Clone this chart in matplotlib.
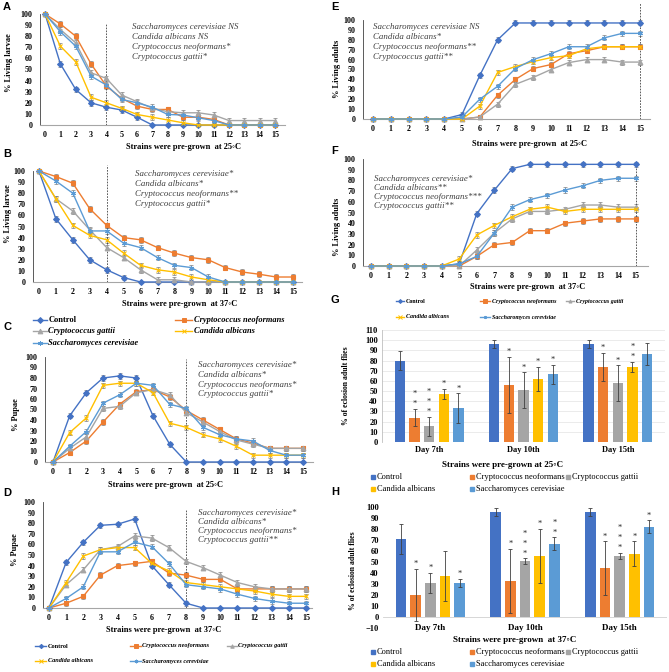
import numpy as np
import matplotlib.pyplot as plt
from matplotlib.lines import Line2D
from matplotlib.patches import Rectangle

plt.rcParams['font.family'] = ['Liberation Serif', 'DejaVu Serif']

W, H = 669, 672

steps = list(range(16))
names = ['Control', 'Cryptococcus neoformans', 'Cryptococcus gattii',
         'Candida albicans', 'Saccharomyces cerevisiae']
colors = ['#4472C4', '#ED7D31', '#A5A5A5', '#FFC000', '#5B9BD5']
markers = ['D', 's', '^', 'x', (6, 2, 0)]

# A - living larvae, strains grown at 25C
a_ctrl = [100, 55, 32, 20, 16, 13.5, 7, 0, 0, 0, 0, 0, 0, 0, 0, 0]
a_neo = [100, 91, 80, 55, 35, 24, 17, 14, 14, 7, 7, 5, 0, 0, 0, 0]
a_gat = [100, 86, 74, 47, 42, 27, 21, 15, 12, 11, 11, 9, 4, 4, 4, 4]
a_alb = [100, 71, 57, 25, 20, 15, 9.5, 7, 4.5, 2, 0, 0, 0, 0, 0, 0]
a_cer = [100, 84, 71, 44, 36, 23, 20, 16, 9.5, 9, 6.5, 4, 0, 0, 0, 0]

# B - living larvae, 37C
b_ctrl = [100, 57, 38, 20, 11, 4, 0, 0, 0, 0, 0, 0, 0, 0, 0, 0]
b_neo = [100, 95, 89, 66, 51, 40, 38, 31, 26, 22, 20, 13, 9, 7, 4.5, 4.5]
b_gat = [100, 75, 64, 47, 31, 22, 11, 2, 2, 0, 0, 0, 0, 0, 0, 0]
b_alb = [100, 75, 51, 42, 38, 26, 15, 11, 9, 4.5, 2, 0, 0, 0, 0, 0]
b_cer = [100, 91, 80, 46, 46, 35, 31, 22, 15, 13, 4.5, 0, 0, 0, 0, 0]

# C - pupae, 25C
c_ctrl = [0, 44, 66, 80, 82, 80, 44, 17, 0, 0, 0, 0, 0, 0, 0, 0]
c_neo = [0, 9, 20, 38, 55, 67, 69, 62, 49, 40, 31, 22, 18, 13, 13, 13]
c_gat = [0, 13, 24, 51, 53, 66, 69, 64, 47, 38, 29, 21, 17, 13, 13, 13]
c_alb = [0, 28, 42, 73, 75, 75, 66, 37, 33, 26, 22, 15, 6.5, 6.5, 6.5, 6.5]
c_cer = [0, 15, 29, 56, 64, 75, 73, 55, 51, 33, 26, 22, 20, 11, 6.5, 6.5]

# D - pupae, 37C
d_ctrl = [0, 43, 62, 78, 79, 84, 40, 22, 4.5, 0, 0, 0, 0, 0, 0, 0]
d_neo = [0, 4.5, 11, 31, 40, 42, 44, 33, 31, 27, 27, 18, 18, 18, 18, 18]
d_gat = [0, 22, 36, 55, 58, 68, 66, 57, 44, 38, 31, 24, 20, 18, 18, 18]
d_alb = [0, 24, 49, 55, 57, 57, 42, 35, 24, 22, 20, 18, 16, 13, 11, 11]
d_cer = [0, 9, 20, 53, 53, 62, 58, 42, 22, 20, 18, 13, 9, 6.5, 4.5, 4.5]

# E - living adults, 25C
e_ctrl = [0, 0, 0, 0, 0, 4.5, 44, 80, 97, 97, 97, 97, 97, 97, 97, 97]
e_neo = [0, 0, 0, 0, 0, 0, 2, 24, 40, 51, 55, 66, 69, 73, 73, 73]
e_gat = [0, 0, 0, 0, 0, 0, 2, 15, 35, 42, 50, 57, 60, 60, 57.5, 57.5]
e_alb = [0, 0, 0, 0, 0, 0, 13, 47, 53, 58, 62, 64, 71, 73, 73, 73]
e_cer = [0, 0, 0, 0, 0, 2, 20, 33, 51, 60, 66, 73, 73, 82, 86.5, 86.5]

# F - living adults, 37C
f_ctrl = [0, 0, 0, 0, 0, 2, 49, 71, 91, 95, 95, 95, 95, 95, 95, 95]
f_neo = [0, 0, 0, 0, 0, 0, 9, 20, 22, 33, 33, 40, 42, 44, 44, 44]
f_gat = [0, 0, 0, 0, 0, 0, 15, 31, 44, 51, 51, 53, 57, 57, 55, 55]
f_alb = [0, 0, 0, 0, 0, 6.5, 29, 38, 46, 53, 55, 51, 53, 53, 53, 53]
f_cer = [0, 0, 0, 0, 0, 2, 9, 31, 55, 62, 66, 71, 75, 80, 82, 82]

a_notes = ['Saccharomyces cerevisiae NS', 'Candida albicans NS',
           'Cryptococcus neoformans*', 'Cryptococcus gattii*']
b_notes = ['Saccharomyces cerevisiae*', 'Candida albicans*',
           'Cryptococcus neoformans**', 'Cryptococcus gattii*']
c_notes = ['Saccharomyces cerevisiae*', 'Candida albicans*',
           'Cryptococcus neoformans*', 'Cryptococcus gattii*']
d_notes = ['Saccharomyces cerevisiae*', 'Candida albicans*',
           'Cryptococcus neoformans*', 'Cryptococcus gattii**']
e_notes = ['Saccharomyces cerevisiae NS', 'Candida albicans*',
           'Cryptococcus neoformans**', 'Cryptococcus gattii**']
f_notes = ['Saccharomyces cerevisiae*', 'Candida albicans**',
           'Cryptococcus neoformans***', 'Cryptococcus gattii**']

LINE_ERR = 2.5

# G / H - % eclosion of adult flies (bars), mean and error, order = names
day_labels = ['Day 7th', 'Day 10th', 'Day 15th']
g_ctrl = [80, 96.5, 96.5]
g_neo = [24, 56, 73.5]
g_gat = [15.5, 51, 58]
g_alb = [47, 62, 73.5]
g_cer = [33.5, 66.5, 86.5]
g_ctrl_err = [9.5, 4, 4]
g_neo_err = [8.5, 27.5, 14]
g_gat_err = [9.5, 17.5, 17.5]
g_alb_err = [5, 12, 5]
g_cer_err = [14.5, 9.5, 11]
g_ctrl_stars = [0, 0, 0]
g_neo_stars = [2, 1, 1]
g_gat_stars = [3, 1, 1]
g_alb_stars = [1, 1, 2]
g_cer_stars = [1, 1, 0]

h_ctrl = [71, 95.5, 95.5]
h_neo = [20, 33, 44.5]
h_gat = [31, 51, 55.5]
h_alb = [37.5, 55.5, 57.5]
h_cer = [31, 66.5, 82]
h_ctrl_err = [14, 3.5, 3.5]
h_neo_err = [24, 29, 24.5]
h_gat_err = [9, 2.5, 3]
h_alb_err = [22.5, 24.5, 11.5]
h_cer_err = [3.5, 6, 6]
h_ctrl_stars = [0, 0, 0]
h_neo_stars = [1, 1, 1]
h_gat_stars = [1, 3, 3]
h_alb_stars = [0, 1, 1]
h_cer_stars = [1, 2, 1]

fig = plt.figure(figsize=(W / 100, H / 100), dpi=100)


def px_axes(l, t, r, b):
    return fig.add_axes([l / W, 1 - b / H, (r - l) / W, (b - t) / H])


def ftext(x, y, s, **kw):
    fig.text(x / W, 1 - y / H, s, **kw)


def line_panel(box, series, xlim, vx, vtop, notes, nx, ny, nstep,
               ylabel, ylab_xy, xlabel, xlab_xy):
    ax = px_axes(*box)
    for i, vals in enumerate(series):
        err = [LINE_ERR if 0 < v < 100 else 0 for v in vals]
        ax.errorbar(steps, vals, yerr=err, fmt='none', ecolor='#7F7F7F',
                    elinewidth=0.5, capsize=1.2, capthick=0.5, clip_on=False)
        ms = 3.0 if i == 0 else 3.4
        ax.plot(steps, vals, color=colors[i], lw=1.0, marker=markers[i],
                ms=ms, mew=0.8, clip_on=False, zorder=3 + i)
    ax.vlines(vx, 0, vtop, colors='#404040', linestyles=(0, (2, 1.5)),
              lw=0.6, clip_on=False, zorder=2)
    ax.set_xlim(*xlim)
    ax.set_ylim(0, 100)
    ax.set_xticks(steps)
    ax.set_yticks(range(0, 101, 10))
    ax.tick_params(length=0, labelsize=5.8, pad=4)
    ax.tick_params(axis='y', pad=5.5)
    for lab in ax.get_xticklabels() + ax.get_yticklabels():
        lab.set_fontweight('bold')
    for s in ['top', 'right']:
        ax.spines[s].set_visible(False)
    ax.spines['left'].set_color('#404040')
    ax.spines['left'].set_linewidth(0.6)
    ax.spines['bottom'].set_color('#A6A6A6')
    ax.spines['bottom'].set_linewidth(0.8)
    for k, note in enumerate(notes):
        ax.text(nx, ny - k * nstep, note, fontsize=6.4, style='italic',
                color='#404040', va='center', ha='left')
    ftext(ylab_xy[0], ylab_xy[1], ylabel, rotation=90, fontsize=6,
          fontweight='bold', ha='center', va='center')
    ftext(xlab_xy[0], xlab_xy[1], xlabel, fontsize=6, fontweight='bold',
          ha='center', va='center')
    return ax


line_panel((40, 14, 285, 125), [a_ctrl, a_neo, a_gat, a_alb, a_cer],
           (-0.33, 15.65), 4, 92, a_notes, 5.7, 88, 9,
           '% Living larvae', (9, 63), 'Strains were pre-grown  at 25\u25e6C', (183, 147))
line_panel((33, 171, 302, 282), [b_ctrl, b_neo, b_gat, b_alb, b_cer],
           (-0.35, 15.53), 4, 105, b_notes, 5.7, 97, 9,
           '% Living larvae', (8, 214), 'Strains were pre-grown  at 37\u25e6C', (180, 304))
line_panel((45, 357, 313, 462), [c_ctrl, c_neo, c_gat, c_alb, c_cer],
           (-0.48, 15.6), 8, 98, c_notes, 8.7, 92, 9.2,
           '% Pupae', (16, 415), 'Strains were pre-grown  at 25\u25e6C', (165, 485))
line_panel((43, 502, 312, 608), [d_ctrl, d_neo, d_gat, d_alb, d_cer],
           (-0.35, 15.35), 8, 92, d_notes, 8.7, 90, 8.6,
           '% Pupae', (15, 550), 'Strains were pre-grown  at 37\u25e6C', (164, 630))
line_panel((363, 20, 650, 119), [e_ctrl, e_neo, e_gat, e_alb, e_cer],
           (-0.56, 15.56), 15, 117, e_notes, 0.0, 93, 10,
           '% Living adults', (337, 69), 'Strains were pre-grown  at 25\u25e6C', (529, 144))
line_panel((363, 159, 648, 266), [f_ctrl, f_neo, f_gat, f_alb, f_cer],
           (-0.45, 15.7), 15, 97, f_notes, 0.2, 81, 8.4,
           '% Living adults', (337, 227), 'Strains were pre-grown  at 37\u25e6C', (528, 287))


def bar_panel(box, means, errs, stars, ylim, yticks, grid, ylab_xy, xlabel, xlab_xy):
    ax = px_axes(*box)
    x = np.arange(len(day_labels))
    for i in range(5):
        xi = x + (i - 2) * 0.155
        ax.bar(xi, means[i], width=0.11, color=colors[i], zorder=3)
        ax.errorbar(xi, means[i], yerr=errs[i], fmt='none', ecolor='#404040',
                    elinewidth=0.6, capsize=1.6, capthick=0.6, zorder=4)
        for j in range(len(x)):
            top = means[i][j] + errs[i][j]
            for k in range(stars[i][j]):
                ax.annotate('*', (xi[j], top), xytext=(0, 0.5 + 7.2 * k),
                            textcoords='offset points', ha='center', va='bottom',
                            fontsize=6, color='#262626', zorder=5)
    ax.set_xlim(-0.5, 2.5)
    ax.set_ylim(*ylim)
    ax.set_yticks(yticks)
    ax.set_xticks(x)
    if ylim[0] < 0:
        # category labels sit level with the lowest tick label
        ax.set_xticklabels([])
        for j, lab in enumerate(day_labels):
            ax.text(x[j], ylim[0], lab, fontsize=6.5, fontweight='bold',
                    ha='center', va='center')
    else:
        ax.set_xticklabels(day_labels, fontsize=6.5, fontweight='bold')
    ax.tick_params(length=0, labelsize=6, pad=3)
    for lab in ax.get_yticklabels():
        lab.set_fontweight('bold')
    for s in ['top', 'right', 'bottom']:
        ax.spines[s].set_visible(False)
    ax.axhline(0, color='#D0D0D0', lw=0.6, zorder=2)
    if grid:
        ax.yaxis.grid(True, color='#E3E3E3', lw=0.5)
        ax.set_axisbelow(True)
        ax.spines['left'].set_color('#BFBFBF')
        ax.spines['left'].set_linewidth(0.6)
    else:
        ax.spines['left'].set_visible(False)
    ftext(ylab_xy[0], ylab_xy[1], '% of eclosion adult flies', rotation=90,
          fontsize=5.6, fontweight='bold', ha='center', va='center')
    ftext(xlab_xy[0], xlab_xy[1], xlabel, fontsize=6.5, fontweight='bold',
          ha='center', va='center')
    return ax


bar_panel((382, 330, 665, 442),
          [g_ctrl, g_neo, g_gat, g_alb, g_cer],
          [g_ctrl_err, g_neo_err, g_gat_err, g_alb_err, g_cer_err],
          [g_ctrl_stars, g_neo_stars, g_gat_stars, g_alb_stars, g_cer_stars],
          (0, 110), range(0, 111, 10), True, (346, 386),
          'Strains were pre-grown at 25\u25e6C', (503, 465))
bar_panel((383, 507, 667, 628),
          [h_ctrl, h_neo, h_gat, h_alb, h_cer],
          [h_ctrl_err, h_neo_err, h_gat_err, h_alb_err, h_cer_err],
          [h_ctrl_stars, h_neo_stars, h_gat_stars, h_alb_stars, h_cer_stars],
          (-10, 100), range(-10, 101, 10), False, (353, 571),
          'Strains were pre-grown  at 37\u25e6C', (515, 640))


# legends drawn in figure pixel coordinates
def leg_line(x1, x2, y, i, text, size, ms, style='italic', weight='bold'):
    yy = 1 - y / H
    fig.add_artist(Line2D([x1 / W, x2 / W], [yy, yy], color=colors[i], lw=1.0))
    fig.add_artist(Line2D([(x1 + x2) / 2 / W], [yy], color=colors[i],
                          marker=markers[i], ms=ms, mew=0.7, lw=0))
    st = 'normal' if i == 0 else style
    ftext(x2 + 1.5, y, text, fontsize=size, style=st, fontweight=weight,
          ha='left', va='center')


def leg_box(x, y, i, text, size):
    s = 4.5
    fig.add_artist(Rectangle(((x - s / 2) / W, 1 - (y + s / 2) / H), s / W, s / H,
                             color=colors[i], transform=fig.transFigure))
    ftext(x + 4, y, text, fontsize=size, ha='left', va='center')


# legend between B and C
leg_line(33, 47, 320, 0, names[0], 6, 3.0)
leg_line(175, 192, 320, 1, names[1], 6, 3.4)
leg_line(33, 47, 331, 2, names[2], 6, 3.4)
leg_line(175, 192, 331, 3, names[3], 6, 3.4)
leg_line(33, 47, 343, 4, names[4], 6, 3.4)

# legend under D
leg_line(35, 46, 646, 0, names[0], 4.5, 2.2)
leg_line(130, 141, 646, 1, names[1], 4.5, 2.5)
leg_line(227, 237, 646, 2, names[2], 4.5, 2.5)
leg_line(35, 46, 661, 3, names[3], 4.5, 2.5)
leg_line(130, 141, 661, 4, names[4], 4.5, 2.5)

# legend under F
leg_line(396, 404, 301, 0, names[0], 4.3, 2.0)
leg_line(480, 490, 301, 1, names[1], 4.3, 2.2)
leg_line(566, 574, 301, 2, names[2], 4.3, 2.2)
leg_line(396, 404, 317, 3, names[3], 4.3, 2.2)
leg_line(480, 490, 317, 4, names[4], 4.3, 2.2)

# legends under G and H
for yrow1, yrow2 in [(477, 489), (652, 664)]:
    leg_box(373, yrow1, 0, names[0], 6.0)
    leg_box(472, yrow1, 1, names[1], 6.0)
    leg_box(568, yrow1, 2, names[2], 6.0)
    leg_box(373, yrow2, 3, names[3], 6.0)
    leg_box(472, yrow2, 4, names[4], 6.0)

# panel letters
for letter, (lx, ly) in zip('ABCDEFGH', [(7, 7), (7, 154), (7, 327), (7, 493),
                                          (335, 7), (335, 151), (335, 300), (335, 492)]):
    ftext(lx, ly, letter, fontsize=8, fontweight='bold', family='Liberation Sans',
          ha='center', va='center')

fig.savefig('out.png', dpi=100)
